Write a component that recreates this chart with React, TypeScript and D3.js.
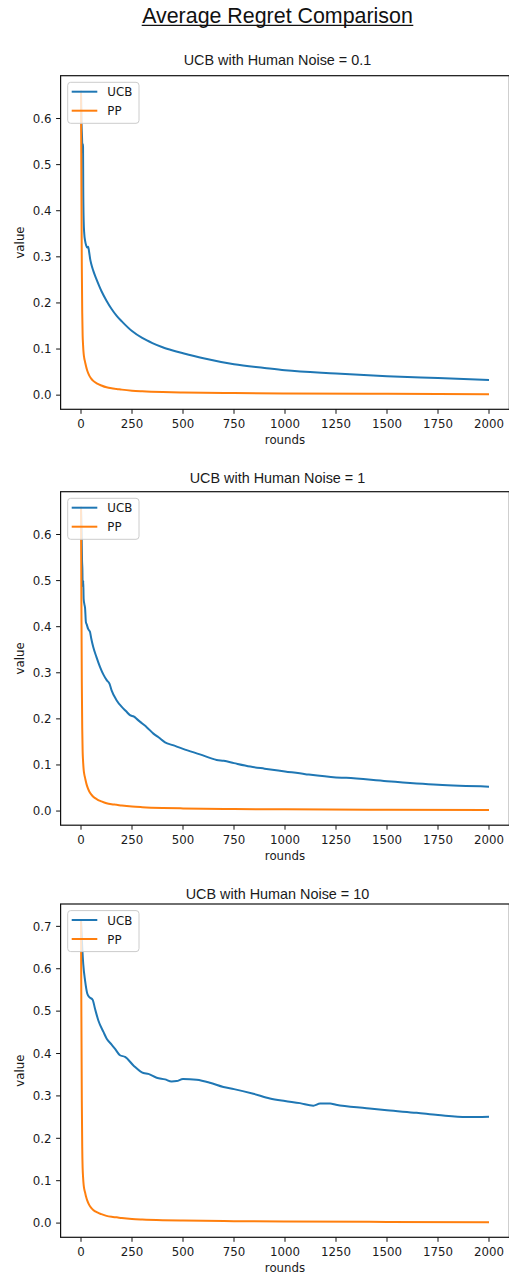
import React from "react";
import * as d3 from "d3";

// ---------- data ----------
const rounds1 = [0, 2, 5, 7, 8, 9, 10, 11, 13, 16, 20, 25, 30, 35, 40, 45, 50, 60, 75, 90, 100, 125, 150, 175, 200, 250, 300, 350, 400, 450, 500, 600, 750, 900, 1000, 1250, 1500, 1750, 2000];
const ucb1 = [0.66, 0.6, 0.56, 0.53, 0.525, 0.545, 0.54, 0.45, 0.38, 0.35, 0.335, 0.325, 0.32, 0.322, 0.31, 0.295, 0.285, 0.27, 0.252, 0.236, 0.226, 0.205, 0.187, 0.172, 0.16, 0.139, 0.124, 0.113, 0.104, 0.097, 0.091, 0.08, 0.067, 0.059, 0.054, 0.047, 0.041, 0.037, 0.033];

const rounds2 = [0, 3, 5, 7, 8, 10, 11, 13, 16, 20, 24, 28, 35, 44, 50, 60, 75, 93, 110, 126, 140, 150, 175, 200, 220, 240, 260, 273, 300, 322, 355, 380, 412, 450, 500, 583, 665, 700, 750, 830, 900, 1000, 1100, 1250, 1300, 1500, 1750, 2000];
const ucb2 = [0.66, 0.6, 0.545, 0.52, 0.487, 0.49, 0.5, 0.46, 0.45, 0.44, 0.41, 0.405, 0.395, 0.389, 0.375, 0.356, 0.335, 0.313, 0.296, 0.284, 0.276, 0.262, 0.24, 0.226, 0.217, 0.208, 0.205, 0.2, 0.19, 0.182, 0.168, 0.16, 0.149, 0.143, 0.135, 0.123, 0.111, 0.109, 0.104, 0.0965, 0.092, 0.086, 0.08, 0.073, 0.072, 0.0646, 0.057, 0.053];

const rounds3 = [0, 3, 11, 20, 31, 41, 57, 69, 85, 110, 126, 150, 167, 191, 216, 257, 306, 330, 371, 412, 444, 469, 500, 567, 632, 698, 750, 845, 926, 1000, 1073, 1139, 1172, 1221, 1250, 1400, 1500, 1645, 1750, 1890, 2000];
const ucb3 = [0.717, 0.682, 0.611, 0.572, 0.541, 0.533, 0.527, 0.505, 0.478, 0.451, 0.435, 0.421, 0.411, 0.396, 0.392, 0.372, 0.354, 0.352, 0.343, 0.339, 0.334, 0.335, 0.34, 0.338, 0.331, 0.321, 0.316, 0.305, 0.294, 0.288, 0.283, 0.277, 0.282, 0.282, 0.279, 0.271, 0.266, 0.26, 0.255, 0.25, 0.251];

const roundsPP = [0, 2, 4, 6, 8, 10, 13, 16, 20, 25, 30, 40, 50, 60, 80, 100, 125, 150, 175, 200, 250, 300, 400, 500, 750, 1000, 1500, 2000];
const pp1 = [0.66, 0.45, 0.28, 0.18, 0.13, 0.11, 0.09, 0.08, 0.072, 0.062, 0.054, 0.043, 0.036, 0.031, 0.025, 0.021, 0.017, 0.0148, 0.0135, 0.012, 0.0098, 0.0085, 0.0068, 0.0058, 0.0045, 0.0037, 0.0028, 0.0022];
const pp2 = [0.66, 0.45, 0.28, 0.18, 0.13, 0.11, 0.09, 0.08, 0.072, 0.062, 0.054, 0.043, 0.036, 0.031, 0.025, 0.021, 0.017, 0.0148, 0.0135, 0.012, 0.0098, 0.0085, 0.0068, 0.0058, 0.0045, 0.0037, 0.0028, 0.0022];
const pp3 = [0.712, 0.48, 0.29, 0.18, 0.13, 0.11, 0.09, 0.08, 0.072, 0.062, 0.054, 0.043, 0.036, 0.031, 0.025, 0.021, 0.017, 0.0148, 0.0135, 0.012, 0.0098, 0.0085, 0.0068, 0.0058, 0.0045, 0.0037, 0.0028, 0.0022];

const xTicks = [0, 250, 500, 750, 1000, 1250, 1500, 1750, 2000];
const yTicks1 = [0.0, 0.1, 0.2, 0.3, 0.4, 0.5, 0.6];
const yTicks2 = [0.0, 0.1, 0.2, 0.3, 0.4, 0.5, 0.6];
const yTicks3 = [0.0, 0.1, 0.2, 0.3, 0.4, 0.5, 0.6, 0.7];

const mainTitle = "Average Regret Comparison";
const panelTitles = ["UCB with Human Noise = 0.1", "UCB with Human Noise = 1", "UCB with Human Noise = 10"];
const seriesNames = ["UCB", "PP"];
const xLabel = "rounds";
const yLabel = "value";

// ---------- layout ----------
const W = 509;
const H = 1275;
const AX_LEFT = 60.6;
const AX_RIGHT = 509.4;
const panelsLayout = [
  { top: 75.7, bottom: 409.3, titleY: 64.7 },
  { top: 491.7, bottom: 825.2, titleY: 483.3 },
  { top: 904, bottom: 1237.3, titleY: 899.3 },
];
const BLUE = "#1f77b4";
const ORANGE = "#ff7f0e";
const TXT = "#1a1a1a";
const TICK_FONT = "'DejaVu Sans', sans-serif";
const TICK_SIZE = 11.8;
const TITLE_FONT = "'Liberation Sans', Arial, sans-serif";

type Pt = [number, number];
const zip = (xs: number[], ys: number[]): Pt[] => xs.map((x, i) => [x, ys[i]] as Pt);

const panelData = [
  { ucb: zip(rounds1, ucb1), pp: zip(roundsPP, pp1), yTicks: yTicks1 },
  { ucb: zip(rounds2, ucb2), pp: zip(roundsPP, pp2), yTicks: yTicks2 },
  { ucb: zip(rounds3, ucb3), pp: zip(roundsPP, pp3), yTicks: yTicks3 },
];

function Panel({ idx }: { idx: number }) {
  const { top, bottom, titleY } = panelsLayout[idx];
  const { ucb, pp, yTicks } = panelData[idx];
  const all = [...ucb, ...pp];
  const [xmin, xmax] = d3.extent(all, (d) => d[0]) as [number, number];
  const [ymin, ymax] = d3.extent(all, (d) => d[1]) as [number, number];
  const xpad = (xmax - xmin) * 0.05;
  const ypad = (ymax - ymin) * 0.05;
  const x = d3.scaleLinear().domain([xmin - xpad, xmax + xpad]).range([AX_LEFT, AX_RIGHT]);
  const y = d3.scaleLinear().domain([ymin - ypad, ymax + ypad]).range([bottom, top]);
  const line = d3.line<Pt>().x((d) => x(d[0])).y((d) => y(d[1])).curve(d3.curveMonotoneX);
  const cx = (AX_LEFT + AX_RIGHT) / 2;
  const cy = (top + bottom) / 2;
  const lx = AX_LEFT + 7.1;
  const ly = top + 6.6;

  return (
    <g>
      <text x={277.5} y={titleY} textAnchor="middle" fontFamily={TITLE_FONT} fontSize={14.4} fill={TXT}>
        {panelTitles[idx]}
      </text>
      <path d={line(ucb) || ""} fill="none" stroke={BLUE} strokeWidth={2} strokeLinejoin="round" />
      <path d={line(pp) || ""} fill="none" stroke={ORANGE} strokeWidth={2} strokeLinejoin="round" />
      {/* spines */}
      <rect x={AX_LEFT} y={top} width={AX_RIGHT - AX_LEFT} height={bottom - top} fill="none" stroke="#111" strokeWidth={1.2} />
      {/* x ticks */}
      {xTicks.map((t) => (
        <g key={"x" + t}>
          <line x1={x(t)} x2={x(t)} y1={bottom} y2={bottom + 4.5} stroke="#111" strokeWidth={1} />
          <text x={x(t)} y={bottom + 18.8} textAnchor="middle" fontFamily={TICK_FONT} fontSize={TICK_SIZE} fill={TXT}>
            {t}
          </text>
        </g>
      ))}
      {/* y ticks */}
      {yTicks.map((t) => (
        <g key={"y" + t}>
          <line x1={AX_LEFT - 4.5} x2={AX_LEFT} y1={y(t)} y2={y(t)} stroke="#111" strokeWidth={1} />
          <text x={51.5} y={y(t) + 4.2} textAnchor="end" fontFamily={TICK_FONT} fontSize={TICK_SIZE} fill={TXT}>
            {t.toFixed(1)}
          </text>
        </g>
      ))}
      <text x={cx} y={bottom + 35} textAnchor="middle" fontFamily={TICK_FONT} fontSize={TICK_SIZE} fill={TXT}>
        {xLabel}
      </text>
      <text
        transform={`translate(24,${cy}) rotate(-90)`}
        textAnchor="middle"
        fontFamily={TICK_FONT}
        fontSize={TICK_SIZE}
        fill={TXT}
      >
        {yLabel}
      </text>
      {/* legend */}
      <rect x={lx} y={ly} width={71.3} height={41} rx={3} ry={3} fill="#fff" fillOpacity={0.8} stroke="#ccc" strokeWidth={1} />
      {seriesNames.map((name, i) => (
        <g key={name}>
          <line x1={lx + 4} x2={lx + 29.6} y1={ly + 9.4 + i * 19} y2={ly + 9.4 + i * 19} stroke={i === 0 ? BLUE : ORANGE} strokeWidth={2} />
          <text x={lx + 39.6} y={ly + 14 + i * 19} fontFamily={TICK_FONT} fontSize={TICK_SIZE} fill={TXT}>
            {name}
          </text>
        </g>
      ))}
    </g>
  );
}

export default function App() {
  return (
    <svg width={W} height={H} style={{ position: "absolute", left: 0, top: 0, background: "#fff" }}>
      <rect x={0} y={0} width={W} height={H} fill="#fff" />
      <text x={277.5} y={23.3} textAnchor="middle" fontFamily={TITLE_FONT} fontSize={21.4} fill="#111">
        {mainTitle}
      </text>
      <line x1={141.7} x2={413.3} y1={25.3} y2={25.3} stroke="#111" strokeWidth={1.3} />
      {[0, 1, 2].map((i) => (
        <Panel key={i} idx={i} />
      ))}
    </svg>
  );
}
